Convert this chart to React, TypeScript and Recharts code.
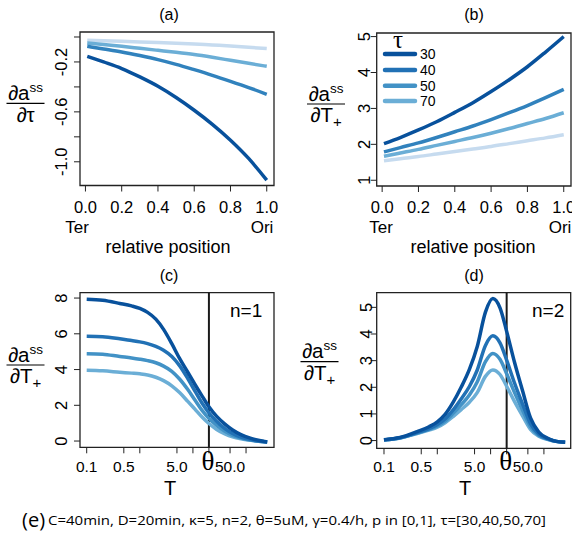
import React from 'react';
import { LineChart, Line, XAxis, YAxis, ReferenceArea, ReferenceLine } from 'recharts';

const FONT = "'Liberation Sans', Arial, Helvetica, sans-serif";
const SERIF = "'Liberation Serif', 'DejaVu Serif', serif";
const CAPFONT = "'Open Sans', 'Noto Sans', sans-serif";

// series keys / legend labels
const tauLevels = ['30', '40', '50', '70'];
const colorsAB = ['#08519c', '#3182bd', '#6baed6', '#c6dbef'];
const colorsCD = ['#08519c', '#2171b5', '#4292c6', '#6baed6'];
const legendColors = ['#08519c', '#2171b5', '#4292c6', '#6baed6'];

// panel (a) and (b): relative position
const posAB = [0.01, 0.1, 0.2, 0.3, 0.4, 0.5, 0.6, 0.7, 0.8, 0.9, 1.0];
const a30 = [-0.155, -0.2, -0.253, -0.32, -0.395, -0.485, -0.587, -0.7, -0.827, -0.973, -1.147];
const a40 = [-0.075, -0.096, -0.12, -0.149, -0.181, -0.219, -0.262, -0.307, -0.355, -0.405, -0.459];
const a50 = [-0.048, -0.061, -0.075, -0.091, -0.107, -0.123, -0.141, -0.163, -0.187, -0.211, -0.235];
const a70 = [-0.027, -0.031, -0.035, -0.04, -0.045, -0.05, -0.056, -0.064, -0.072, -0.082, -0.093];

const b30 = [2.02, 2.19, 2.4, 2.63, 2.89, 3.16, 3.47, 3.8, 4.16, 4.57, 5.0];
const b40 = [1.79, 1.91, 2.04, 2.19, 2.35, 2.51, 2.69, 2.88, 3.08, 3.3, 3.53];
const b50 = [1.67, 1.76, 1.86, 1.97, 2.08, 2.19, 2.31, 2.44, 2.58, 2.72, 2.88];
const b70 = [1.54, 1.6, 1.66, 1.73, 1.8, 1.87, 1.94, 2.02, 2.1, 2.18, 2.27];

// panels (c) and (d): T on a log scale
const tCD = [0.1, 0.2, 0.42, 0.7, 1, 1.4, 2, 2.8, 4, 5.6, 8, 11, 15, 20, 28, 40, 56, 80, 120, 170, 250];

// (c) n=1
const c30 = [7.94, 7.88, 7.7, 7.56, 7.42, 7.2, 6.82, 6.25, 5.45, 4.62, 3.85, 3.15, 2.5, 1.92, 1.38, 0.95, 0.62, 0.36, 0.16, 0.04, -0.05];
const c40 = [5.87, 5.84, 5.72, 5.62, 5.55, 5.45, 5.3, 5.08, 4.73, 4.22, 3.5, 2.78, 2.1, 1.58, 1.09, 0.7, 0.42, 0.22, 0.09, 0.0, -0.05];
const c50 = [4.89, 4.86, 4.73, 4.65, 4.58, 4.5, 4.38, 4.19, 3.9, 3.47, 2.88, 2.28, 1.7, 1.27, 0.87, 0.55, 0.32, 0.17, 0.06, -0.01, -0.05];
const c70 = [3.96, 3.93, 3.85, 3.8, 3.76, 3.7, 3.57, 3.38, 3.09, 2.71, 2.22, 1.77, 1.33, 0.98, 0.65, 0.4, 0.23, 0.12, 0.04, -0.01, -0.05];

// (d) n=2
const d30 = [0.03, 0.12, 0.34, 0.52, 0.7, 0.98, 1.45, 2.0, 2.67, 3.52, 4.82, 5.33, 4.98, 4.1, 2.95, 1.85, 0.85, 0.32, 0.08, -0.03, -0.06];
const d40 = [0.026, 0.106, 0.3, 0.45, 0.6, 0.81, 1.16, 1.56, 2.03, 2.64, 3.57, 3.93, 3.67, 3.02, 2.17, 1.36, 0.63, 0.24, 0.06, -0.03, -0.06];
const d50 = [0.025, 0.098, 0.28, 0.42, 0.55, 0.73, 1.03, 1.34, 1.71, 2.2, 2.96, 3.27, 3.05, 2.51, 1.81, 1.13, 0.52, 0.2, 0.05, -0.03, -0.06];
const d70 = [0.023, 0.094, 0.265, 0.39, 0.5, 0.67, 0.91, 1.16, 1.44, 1.8, 2.41, 2.65, 2.48, 2.04, 1.47, 0.92, 0.42, 0.16, 0.04, -0.03, -0.06];

const thetaT = 20;

// ticks
const xTicksAB = [0, 0.2, 0.4, 0.6, 0.8, 1.0];
const xLabelsAB = ['0.0', '0.2', '0.4', '0.6', '0.8', '1.0'];
const yTicksA = [0, -0.2, -0.4, -0.6, -0.8, -1.0];
const yLabelsA = ['', '-0.2', '', '-0.6', '', '-1.0'];
const yTicksB = [1, 2, 3, 4, 5];
const yLabelsB = ['1', '2', '3', '4', '5'];
const yTicksC = [0, 2, 4, 6, 8];
const yLabelsC = ['0', '2', '4', '6', '8'];
const yTicksD = [0, 1, 2, 3, 4, 5];
const yLabelsD = ['0', '1', '2', '3', '4', '5'];
const xTicksCD = [0.1, 0.5, 1, 5, 10, 20, 50, 100];
const xLabelsCD = ['0.1', '0.5', '', '5.0', '', 'θ', '50.0', ''];

const caption = 'C=40min, D=20min, κ=5, n=2, θ=5uM, γ=0.4/h, p in [0,1], τ=[30,40,50,70]';

const build = (xs: number[], s: number[][]) =>
  xs.map((x, i) => ({ x, t30: s[0][i], t40: s[1][i], t50: s[2][i], t70: s[3][i] }));

const dataA = build(posAB, [a30, a40, a50, a70]);
const dataB = build(posAB, [b30, b40, b50, b70]);
const dataC = build(tCD, [c30, c40, c50, c70]);
const dataD = build(tCD, [d30, d40, d50, d70]);

const keys = ['t30', 't40', 't50', 't70'];

type PanelProps = {
  left: number; top: number; width: number; height: number;
  boxLeft: number; boxRight: number; boxTop: number; boxBottom: number;
  xDomain: [number, number]; yDomain: [number, number]; log?: boolean;
  data: any[]; colors: string[];
  xTicks: number[]; xLabels: string[]; yTicks: number[]; yLabels: string[];
  yLabelOffset: number; xLabelBaseline: number; theta?: boolean;
  xTickFs: number; yTickFs: number;
};

function Panel(p: PanelProps) {
  const XTick = (props: any) => {
    const { x, payload } = props;
    const idx = p.xTicks.findIndex((t) => Math.abs(t - payload.value) < 1e-9);
    const lab = idx >= 0 ? p.xLabels[idx] : '';
    if (!lab) return <g />;
    if (lab === 'θ') {
      return (
        <text x={x - 1} y={p.xLabelBaseline - 2} textAnchor="middle" fontSize={27} fontFamily={SERIF} fill="#000">
          {lab}
        </text>
      );
    }
    return (
      <text x={x} y={p.xLabelBaseline} textAnchor="middle" fontSize={p.xTickFs} fontFamily={FONT} fill="#000">
        {lab}
      </text>
    );
  };
  const YTick = (props: any) => {
    const { y, payload } = props;
    const idx = p.yTicks.findIndex((t) => Math.abs(t - payload.value) < 1e-9);
    const lab = idx >= 0 ? p.yLabels[idx] : '';
    if (!lab) return <g />;
    const tx = p.boxLeft - p.yLabelOffset;
    return (
      <text x={tx} y={y} transform={`rotate(-90 ${tx} ${y})`} textAnchor="middle" fontSize={p.yTickFs} fontFamily={FONT} fill="#000">
        {lab}
      </text>
    );
  };
  return (
    <div style={{ position: 'absolute', left: p.left, top: p.top, width: p.width, height: p.height }}>
      <LineChart
        width={p.width}
        height={p.height}
        data={p.data}
        margin={{ top: p.boxTop, right: p.width - p.boxRight, bottom: 0, left: 0 }}
      >
        <XAxis
          dataKey="x"
          type="number"
          scale={p.log ? 'log' : 'linear'}
          domain={p.xDomain}
          allowDataOverflow
          ticks={p.xTicks}
          interval={0}
          height={p.height - p.boxBottom}
          axisLine={false}
          tickLine={{ stroke: '#222', strokeWidth: 1 }}
          tickSize={6}
          tick={XTick}
        />
        <YAxis
          type="number"
          domain={p.yDomain}
          allowDataOverflow
          ticks={p.yTicks}
          interval={0}
          width={p.boxLeft}
          axisLine={false}
          tickLine={{ stroke: '#222', strokeWidth: 1 }}
          tickSize={6}
          tick={YTick}
        />
        <ReferenceArea
          x1={p.xDomain[0]}
          x2={p.xDomain[1]}
          y1={p.yDomain[0]}
          y2={p.yDomain[1]}
          fill="none"
          fillOpacity={0}
          stroke="#222"
          strokeWidth={1.3}
          ifOverflow="visible"
        />
        {p.theta && <ReferenceLine x={thetaT} stroke="#1a1a1a" strokeWidth={2} ifOverflow="visible" />}
        {[3, 2, 1, 0].map((i) => (
          <Line
            key={keys[i]}
            dataKey={keys[i]}
            type="monotone"
            stroke={p.colors[i]}
            strokeWidth={3.5}
            dot={false}
            activeDot={false}
            isAnimationActive={false}
          />
        ))}
      </LineChart>
    </div>
  );
}

const Frac = ({ cx, barY, den }: { cx: number; barY: number; den: 'tau' | 'T' }) => (
  <g fontFamily={FONT} fill="#000">
    <text x={cx} y={barY - 3.5} textAnchor="middle" fontSize={20.5}>
      ∂a<tspan fontSize={13.5} dy={-8}>ss</tspan>
    </text>
    <line x1={cx - 19} x2={cx + 19} y1={barY} y2={barY} stroke="#000" strokeWidth={1.2} />
    {den === 'tau' ? (
      <text x={cx} y={barY + 18.5} textAnchor="middle" fontSize={20.5}>∂τ</text>
    ) : (
      <text x={cx} y={barY + 18} textAnchor="middle" fontSize={20.5}>
        ∂T<tspan fontSize={15} dy={5}>+</tspan>
      </text>
    )}
  </g>
);

export default function App() {
  return (
    <div style={{ position: 'absolute', left: 0, top: 0, width: 572, height: 535, background: '#fff', overflow: 'hidden' }}>
      <Panel
        left={0} top={0} width={286} height={250}
        boxLeft={80} boxRight={274} boxTop={32} boxBottom={185.5}
        xDomain={[-0.03, 1.04]} yDomain={[-1.19, 0.04]}
        data={dataA} colors={colorsAB}
        xTicks={xTicksAB} xLabels={xLabelsAB} yTicks={yTicksA} yLabels={yLabelsA}
        yLabelOffset={13} xLabelBaseline={213} xTickFs={16.5} yTickFs={16.5}
      />
      <Panel
        left={286} top={0} width={286} height={250}
        boxLeft={90.7} boxRight={285} boxTop={33} boxBottom={186}
        xDomain={[-0.03, 1.04]} yDomain={[0.84, 5.1]}
        data={dataB} colors={colorsAB}
        xTicks={xTicksAB} xLabels={xLabelsAB} yTicks={yTicksB} yLabels={yLabelsB}
        yLabelOffset={7} xLabelBaseline={213} xTickFs={16.5} yTickFs={16.5}
      />
      <Panel
        left={0} top={250} width={286} height={250}
        boxLeft={80} boxRight={274} boxTop={42.7} boxBottom={197.3}
        xDomain={[0.0748, 336]} yDomain={[-0.35, 8.3]} log
        data={dataC} colors={colorsCD}
        xTicks={xTicksCD} xLabels={xLabelsCD} yTicks={yTicksC} yLabels={yLabelsC}
        yLabelOffset={13} xLabelBaseline={222} theta xTickFs={15.5} yTickFs={16.5}
      />
      <Panel
        left={286} top={250} width={286} height={250}
        boxLeft={90.7} boxRight={284.7} boxTop={42.7} boxBottom={198.3}
        xDomain={[0.073, 318]} yDomain={[-0.29, 5.55]} log
        data={dataD} colors={colorsCD}
        xTicks={xTicksCD} xLabels={xLabelsCD} yTicks={yTicksD} yLabels={yLabelsD}
        yLabelOffset={5} xLabelBaseline={222} theta xTickFs={15.5} yTickFs={16.5}
      />
      <svg width={572} height={535} style={{ position: 'absolute', left: 0, top: 0, pointerEvents: 'none' }}>
        <g fontFamily={FONT} fill="#000">
          <text x={169} y={20} textAnchor="middle" fontSize={16}>(a)</text>
          <text x={474} y={20} textAnchor="middle" fontSize={16}>(b)</text>
          <text x={169} y={281} textAnchor="middle" fontSize={16}>(c)</text>
          <text x={474} y={281} textAnchor="middle" fontSize={16}>(d)</text>

          <text x={77} y={233} textAnchor="middle" fontSize={17}>Ter</text>
          <text x={262} y={233} textAnchor="middle" fontSize={17}>Ori</text>
          <text x={381} y={233} textAnchor="middle" fontSize={17}>Ter</text>
          <text x={560} y={233} textAnchor="middle" fontSize={17}>Ori</text>
          <text x={168} y={253} textAnchor="middle" fontSize={18}>relative position</text>
          <text x={473} y={253} textAnchor="middle" fontSize={18}>relative position</text>

          <text x={170} y={495} textAnchor="middle" fontSize={20}>T</text>
          <text x={465} y={495} textAnchor="middle" fontSize={20}>T</text>

          <text x={230} y={317} fontSize={19}>n=1</text>
          <text x={532} y={317} fontSize={19}>n=2</text>
        </g>

        <Frac cx={25.5} barY={103.3} den="tau" />
        <Frac cx={326} barY={104} den="T" />
        <Frac cx={25.5} barY={365} den="T" />
        <Frac cx={319.5} barY={361.7} den="T" />

        <text x={398} y={48} textAnchor="middle" fontSize={25} fontFamily={SERIF} fill="#000">τ</text>
        {tauLevels.map((t, i) => {
          const y = [54, 70, 85.7, 101][i];
          return (
            <g key={t}>
              <line x1={385} x2={415} y1={y} y2={y} stroke={legendColors[i]} strokeWidth={4.5} strokeLinecap="round" />
              <text x={420} y={y + 5} fontSize={14} fontFamily={FONT} fill="#000">{t}</text>
            </g>
          );
        })}

        <text x={22} y={527} fontSize={20} fontFamily={CAPFONT} fill="#000">(e)</text>
        <text x={48} y={525} fontSize={12.5} fontFamily={CAPFONT} fill="#000" textLength={498} lengthAdjust="spacingAndGlyphs">
          {caption}
        </text>
      </svg>
    </div>
  );
}
